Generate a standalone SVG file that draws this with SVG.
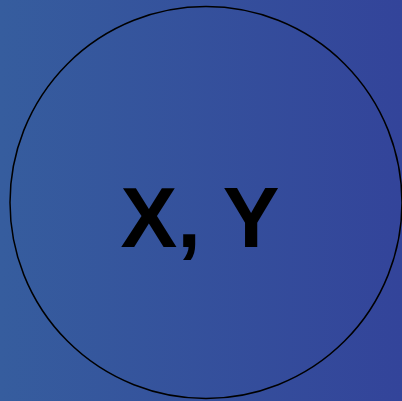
<svg xmlns="http://www.w3.org/2000/svg" width="402" height="401" viewBox="0 0 402 401">
<defs>
<linearGradient id="bg" x1="0" y1="0" x2="1" y2="0">
<stop offset="0" stop-color="#365d9e"/>
<stop offset="1" stop-color="#33449a"/>
</linearGradient>
<style>
.node{fill:none;stroke:#000;stroke-width:1.5}
.lbl{font-family:"Liberation Sans",Arial,sans-serif;font-weight:bold;font-size:85px;fill:#000;text-anchor:middle}
</style>
</defs>
<rect x="0" y="0" width="402" height="401" fill="url(#bg)"/>
<g id="connectors"></g>
<g id="node-xy">
<circle class="node" cx="206" cy="202.5" r="196"/>
<text class="lbl" x="200" y="247">X, Y</text>
</g>
</svg>
